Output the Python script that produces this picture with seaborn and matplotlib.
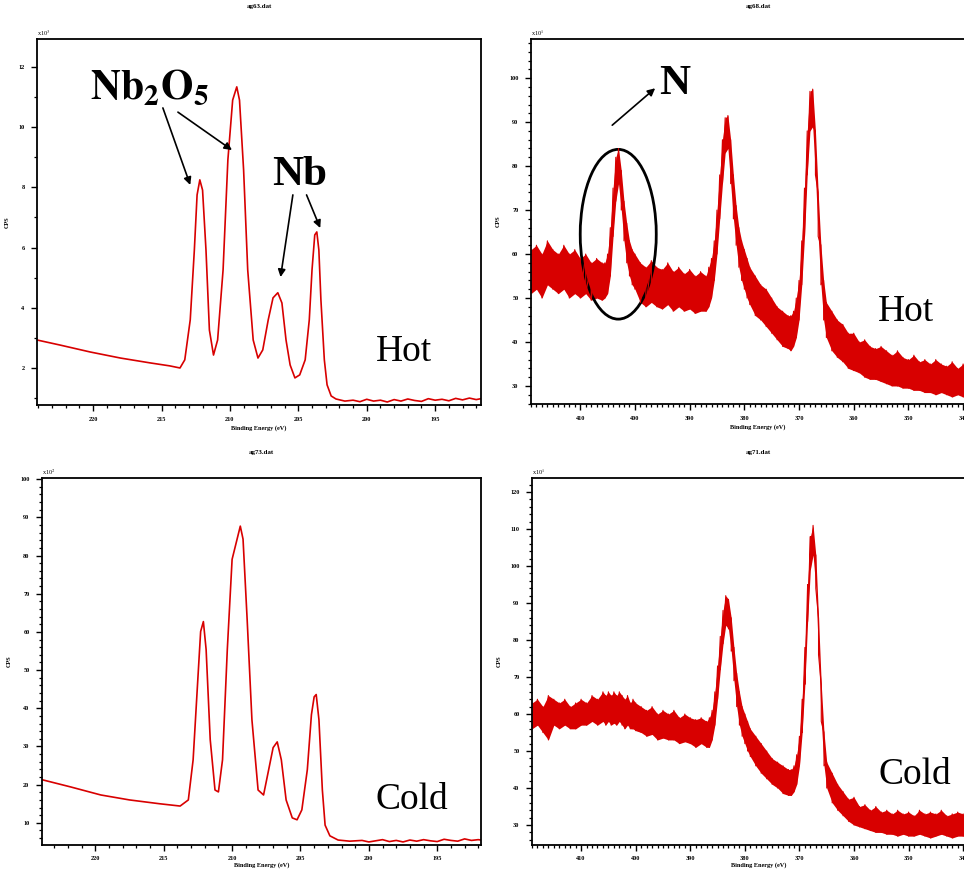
import numpy as np
import pandas as pd
import matplotlib
matplotlib.use("Agg")
import matplotlib.pyplot as plt
from matplotlib.patches import Ellipse
from matplotlib.ticker import MultipleLocator
import seaborn as sns

sns.set_style("white")
plt.rcParams['font.family'] = ['Liberation Serif', 'DejaVu Serif']
plt.rcParams['mathtext.fontset'] = 'stix'
plt.rcParams['text.color'] = 'black'
plt.rcParams['axes.labelcolor'] = 'black'
plt.rcParams['xtick.color'] = 'black'
plt.rcParams['ytick.color'] = 'black'

RED = '#d80000'

# ---------------- data: Nb 3d (left panels) ----------------
nb_hot_energy = [224.1, 222.4, 220.2, 218.0, 215.85, 214.4, 213.65, 213.3, 212.9, 212.6,
                 212.4, 212.2, 212.0, 211.75, 211.5, 211.2, 210.9, 210.5, 210.15, 209.8,
                 209.5, 209.3, 209.0, 208.7, 208.3, 207.95, 207.6, 207.2, 206.85, 206.5,
                 206.2, 205.9, 205.6, 205.25, 204.9, 204.5, 204.2, 204.0, 203.8, 203.65,
                 203.5, 203.35, 203.1, 202.9, 202.6, 202.25, 201.6, 201.0, 200.5, 200.0,
                 199.5, 199.0, 198.5, 198.0, 197.5, 197.0, 196.5, 196.0, 195.5, 195.0,
                 194.5, 194.0, 193.5, 193.0, 192.5, 192.0, 191.65]
nb_hot_cps = [2.93, 2.76, 2.53, 2.33, 2.17, 2.07, 2.0, 2.27, 3.6, 5.92,
              7.75, 8.25, 7.91, 5.92, 3.26, 2.43, 2.93, 5.26, 8.91, 10.9,
              11.34, 10.9, 8.58, 5.26, 2.93, 2.33, 2.6, 3.6, 4.33, 4.5,
              4.16, 2.93, 2.1, 1.67, 1.77, 2.27, 3.6, 5.26, 6.42, 6.52,
              5.92, 4.26, 2.27, 1.44, 1.07, 0.97, 0.9, 0.93, 0.88, 0.96,
              0.9, 0.93, 0.87, 0.95, 0.9, 0.97, 0.92, 0.89, 0.98, 0.93,
              0.96, 0.91, 0.99, 0.94, 1.0, 0.95, 0.98]

nb_cold_energy = [223.9, 221.8, 219.6, 217.5, 215.3, 213.8, 213.2, 212.85, 212.55, 212.3,
                  212.1, 211.9, 211.6, 211.25, 211.0, 210.7, 210.35, 210.0, 209.4, 209.2,
                  208.9, 208.55, 208.1, 207.7, 207.4, 207.0, 206.7, 206.4, 206.05, 205.6,
                  205.25, 204.9, 204.5, 204.2, 204.0, 203.85, 203.65, 203.4, 203.2, 202.85,
                  202.25, 201.4, 200.5, 200.0, 199.5, 199.0, 198.5, 198.0, 197.5, 197.0,
                  196.5, 196.0, 195.5, 195.0, 194.5, 194.0, 193.5, 193.0, 192.5, 192.0, 191.8]
nb_cold_cps = [21.3, 19.4, 17.3, 16.0, 15.0, 14.4, 16.0, 26.5, 44.9, 60.1,
               62.7, 55.4, 31.8, 18.6, 18.1, 26.5, 55.4, 79.0, 87.7, 84.3,
               63.3, 37.0, 18.6, 17.3, 22.6, 29.7, 31.2, 26.5, 16.0, 11.3,
               10.8, 13.4, 23.9, 38.3, 43.0, 43.6, 37.0, 18.6, 9.4, 6.6,
               5.5, 5.2, 5.4, 5.0, 5.3, 5.6, 5.1, 5.4, 5.0, 5.5,
               5.2, 5.6, 5.3, 5.1, 5.7, 5.4, 5.2, 5.8, 5.4, 5.6, 5.5]

# ---------------- data: N 1s / Nb 3p (right panels) ----------------
n_energy = [419, 418, 417, 416, 415, 414, 413, 412, 411, 410, 409, 408, 407, 406,
            405.5, 405, 404.5, 404, 403.5, 403, 402.5, 402, 401.5, 401, 400.5, 400,
            399, 398, 397, 396, 395, 394, 393, 392, 391, 390, 389, 388, 387,
            386.5, 386, 385.5, 385, 384.5, 384, 383.5, 383, 382.5, 382, 381.5, 381, 380.5, 380, 379.5, 379,
            378, 377, 376, 375, 374, 373, 372,
            371.5, 371, 370.5, 370, 369.5, 369, 368.5, 368, 367.5, 367, 366.5, 366, 365.5, 365,
            364, 363, 362, 361, 360, 359, 358, 357, 356, 355, 354, 353, 352, 351, 350,
            349, 348, 347, 346, 345, 344, 343, 342, 341, 340, 339, 338, 337, 336]

n_hot_hi = [61, 62, 60, 63, 61, 60, 62, 60, 61, 59, 60, 58, 59, 58,
            58, 60, 66, 75, 82, 84, 79, 72, 67, 63, 61, 60,
            58, 57, 58.5, 57, 56.5, 58, 56, 57, 55.5, 56.5, 55, 56, 55,
            57, 59, 63, 70, 78, 86, 91, 91.5, 86, 78, 71, 66, 63, 61, 59, 57,
            55, 53, 52, 50, 48, 47, 46,
            46, 47, 50, 54, 63, 75, 88, 97, 97.5, 88, 74, 62, 54, 49,
            47, 45, 44, 42, 42, 40, 40.5, 39, 38.5, 39, 38, 37, 38, 36.5, 36,
            37, 35.5, 36, 35, 36, 35, 34.5, 35.5, 34, 35, 34.5, 35, 34, 35]
n_hot_lo = [51, 52, 50, 53, 52, 51, 52, 50, 51, 50, 51, 49.5, 50, 49.5,
            50, 51, 55, 64, 72, 76, 70, 63, 58, 55, 53, 52,
            49, 48, 49, 48, 47.5, 48.5, 47, 48, 47, 47.5, 46.5, 47, 47,
            48, 50, 54, 60, 68, 76, 83, 84, 76, 68, 62, 57, 54, 52, 50, 48.5,
            46, 45, 43.5, 42, 40.5, 39, 38.5,
            38, 39, 41, 45, 53, 64, 78, 88, 89, 78, 64, 53, 45, 41,
            38, 36.5, 35.5, 34, 33.5, 33, 32, 31.5, 31.5, 31, 30.5, 30, 30, 29.5, 29.5,
            29, 29, 28.5, 28.5, 28, 28.5, 28, 27.5, 28, 27.5, 28, 27.5, 28, 28]

n_cold_hi = [63, 64, 62, 65, 64, 63, 64, 62, 63, 64, 63, 65, 64, 66,
             65, 66, 65, 66, 65, 66, 65, 64, 65, 63, 64, 63,
             62, 61, 62, 60, 61, 60, 61, 59, 60, 59, 58.5, 59, 58,
             59, 61, 66, 73, 81, 88, 92, 91, 86, 78, 71, 66, 62, 60, 58, 56,
             54, 52, 50, 48, 47, 46, 45,
             45, 46, 49, 54, 64, 78, 95, 108, 111, 103, 86, 68, 55, 47,
             44, 41, 39, 37, 37.5, 35, 35.5, 34, 35, 33.5, 34, 33, 34, 33, 33.5,
             32.5, 34, 33, 33.5, 33, 34, 32.5, 33, 33.5, 33, 32.5, 33, 33.5, 33]
n_cold_lo = [56, 57, 55, 53, 57, 56, 57, 56, 56, 57, 57, 58, 57, 58,
             57, 58, 57, 57.5, 57, 58, 57, 56, 57, 56, 56, 55.5,
             55, 54, 54.5, 53, 53.5, 53, 53, 52, 52.5, 52, 51, 52, 51,
             51, 53, 57, 64, 72, 79, 84, 83, 77, 69, 62, 57, 54, 52, 50, 48.5,
             46, 44, 42.5, 41, 40, 38.5, 38,
             38, 39, 41, 46, 55, 68, 85, 99, 103, 94, 76, 58, 46, 40,
             36, 34, 32.5, 31, 30, 29.5, 29, 28.5, 28, 28, 27.5, 27.5, 27, 27.5, 27,
             27, 27.5, 27, 26.5, 27, 27.5, 27, 26.5, 27, 27, 26.5, 27, 27, 27]

# ---------------- helpers ----------------
W, H = 964, 869
fig = plt.figure(figsize=(W / 100, H / 100), dpi=100)


def add_axes_px(left, right, top, bottom):
    return fig.add_axes([left / W, 1 - bottom / H, (right - left) / W, (bottom - top) / H])


def style_axes(ax, title, mult, xmaj, xmin, ymaj, ymin, tpad, xpad, lpad):
    ax.set_facecolor('white')
    for s in ax.spines.values():
        s.set_visible(True)
        s.set_color('black')
        s.set_linewidth(1.3)
    ax.xaxis.set_major_locator(MultipleLocator(xmaj))
    ax.xaxis.set_minor_locator(MultipleLocator(xmin))
    ax.yaxis.set_major_locator(MultipleLocator(ymaj))
    ax.yaxis.set_minor_locator(MultipleLocator(ymin))
    ax.tick_params(axis='both', which='major', direction='out', length=4, width=1,
                   labelsize=4.5, pad=5, bottom=True, left=True, top=False, right=False,
                   colors='black')
    ax.tick_params(axis='x', which='major', pad=xpad)
    ax.tick_params(axis='both', which='minor', direction='out', length=2, width=0.9,
                   bottom=True, left=True, top=False, right=False, colors='black')
    for lab in ax.get_xticklabels() + ax.get_yticklabels():
        lab.set_fontweight('bold')
    ax.set_xlabel('Binding Energy (eV)', fontsize=4.5, fontweight='bold', labelpad=lpad,
                  color='black')
    ax.set_ylabel('CPS', fontsize=4.5, fontweight='bold', labelpad=6, color='black')
    ax.set_title(title, fontsize=5, fontweight='bold', pad=tpad, color='black')
    ax.text(0.0, 1.004, mult, transform=ax.transAxes, ha='left', va='bottom',
            fontsize=4.5, color='black')
    ax.grid(False)


def zigzag(energy, hi, lo):
    xs, ys = [], []
    for e, h, l in zip(energy, hi, lo):
        xs += [e, e]
        ys += [h, l]
    return pd.DataFrame({'energy': xs, 'cps': ys})


arrow = dict(arrowstyle='-|>', color='black', lw=1.2, mutation_scale=11,
             shrinkA=0, shrinkB=0)

# ---------------- top-left: Nb 3d hot ----------------
ax1 = add_axes_px(37, 481, 39, 405)
sns.lineplot(x=nb_hot_energy, y=nb_hot_cps, ax=ax1, color=RED, lw=1.2,
             estimator=None, sort=False)
ax1.set_xlim(224.1, 191.65)
ax1.set_ylim(0.77, 12.93)
style_axes(ax1, 'ag63.dat', r'x10$^{3}$', 5, 1, 2, 1, 22, 5, 2)
ax1.text(215.85, 11.3, r'$\mathbf{Nb_2O_5}$', fontsize=30, ha='center', va='center',
         color='black')
ax1.text(204.9, 8.41, 'Nb', fontsize=31, fontweight='bold', ha='center', va='center',
         color='black')
ax1.text(199.3, 2.53, 'Hot', fontsize=27, ha='left', va='center', color='black')
ax1.annotate('', xy=(212.9, 8.08), xytext=(214.9, 10.64), arrowprops=arrow)
ax1.annotate('', xy=(209.85, 9.24), xytext=(213.8, 10.5), arrowprops=arrow)
ax1.annotate('', xy=(206.3, 5.02), xytext=(205.4, 7.75), arrowprops=arrow)
ax1.annotate('', xy=(203.4, 6.65), xytext=(204.4, 7.75), arrowprops=arrow)

# ---------------- top-right: N 1s hot ----------------
ax2 = add_axes_px(531, 985, 39, 404)
zz = zigzag(n_energy, n_hot_hi, n_hot_lo)
ax2.fill_between(n_energy, n_hot_lo, n_hot_hi, color=RED, lw=0)
sns.lineplot(data=zz, x='energy', y='cps', ax=ax2, color=RED, lw=0.8,
             estimator=None, sort=False)
ax2.set_xlim(419.0, 336.0)
ax2.set_ylim(25.9, 108.9)
style_axes(ax2, 'ag68.dat', r'x10$^{1}$', 10, 1, 10, 2, 22, 5, 2)
ax2.add_patch(Ellipse((403.05, 64.5), 13.9, 38.6, fill=False, ec='black', lw=2))
ax2.text(392.8, 98.6, 'N', fontsize=31, fontweight='bold', ha='center', va='center',
         color='black')
ax2.annotate('', xy=(396.3, 97.7), xytext=(404.15, 89.3), arrowprops=arrow)
ax2.text(355.5, 46.8, 'Hot', fontsize=27, ha='left', va='center', color='black')

# ---------------- bottom-left: Nb 3d cold ----------------
ax3 = add_axes_px(42, 481, 478, 845)
sns.lineplot(x=nb_cold_energy, y=nb_cold_cps, ax=ax3, color=RED, lw=1.2,
             estimator=None, sort=False)
ax3.set_xlim(223.9, 191.8)
ax3.set_ylim(4.2, 100.3)
style_axes(ax3, 'ag73.dat', r'x10$^{2}$', 5, 1, 10, 2, 17, 4, 0.5)
ax3.text(199.5, 16.0, 'Cold', fontsize=27, ha='left', va='center', color='black')

# ---------------- bottom-right: N 1s cold ----------------
ax4 = add_axes_px(532, 985, 478, 845)
zz = zigzag(n_energy, n_cold_hi, n_cold_lo)
ax4.fill_between(n_energy, n_cold_lo, n_cold_hi, color=RED, lw=0)
sns.lineplot(data=zz, x='energy', y='cps', ax=ax4, color=RED, lw=0.8,
             estimator=None, sort=False)
ax4.set_xlim(419.0, 336.0)
ax4.set_ylim(24.6, 123.8)
style_axes(ax4, 'ag71.dat', r'x10$^{1}$', 10, 1, 10, 2, 17, 4, 0.5)
ax4.text(355.5, 43.5, 'Cold', fontsize=27, ha='left', va='center', color='black')

fig.savefig('out.png', dpi=100, facecolor='white')
